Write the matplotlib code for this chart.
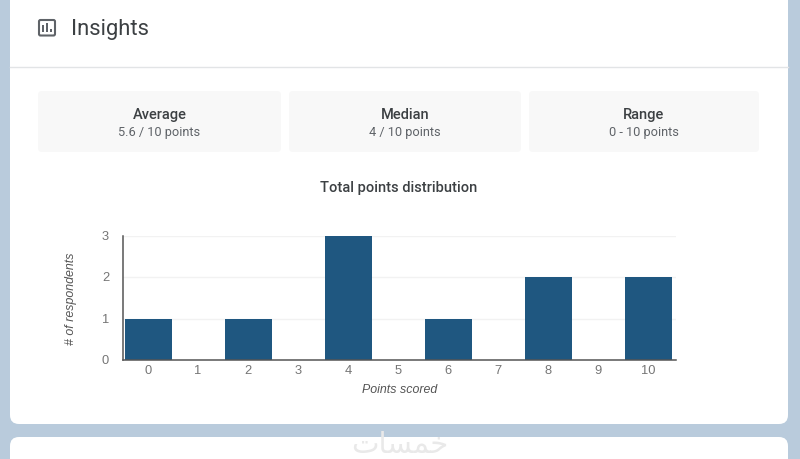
import matplotlib
matplotlib.use("Agg")
import matplotlib.pyplot as plt
from matplotlib.patches import FancyBboxPatch, Rectangle
from matplotlib.transforms import ScaledTranslation

points = [0, 1, 2, 3, 4, 5, 6, 7, 8, 9, 10]
respondents = [1, 0, 1, 0, 3, 0, 1, 0, 2, 0, 2]
y_ticks = [0, 1, 2, 3]
stat_titles = ["Average", "Median", "Range"]
stat_values = ["5.6 / 10 points", "4 / 10 points", "0 - 10 points"]
stat_boxes = [(38, 281), (289, 521), (529, 759)]

W, H = 800, 460
plt.rcParams["font.family"] = ["Roboto", "DejaVu Sans"]
fig = plt.figure(figsize=(W / 100, H / 100), dpi=100, facecolor="#b9cbdc")

bg = fig.add_axes([0, 0, 1, 1])
bg.set_xlim(0, W)
bg.set_ylim(H, 0)
bg.axis("off")


def rbox(x0, y0, x1, y1, color, r=8, ax=bg, **kw):
    ax.add_patch(FancyBboxPatch((x0 + r, y0 + r), x1 - x0 - 2 * r, y1 - y0 - 2 * r,
                                boxstyle=f"round,pad={r},rounding_size={r}",
                                fc=color, ec="none", **kw))


rbox(10, -30, 788, 425, "#ffffff", r=9)
rbox(10, 438, 788, 490, "#ffffff", r=9)
bg.plot([10, 788], [67.5, 67.5], color="#e2e4e6", lw=1)

# header icon
bg.add_patch(FancyBboxPatch((39.5, 21.5), 15, 14.5, boxstyle="round,pad=0.5,rounding_size=1.5",
                            fc="none", ec="#5f6368", lw=1.5))
for bx, top in [(42, 26), (46, 24), (50, 30)]:
    bg.add_patch(Rectangle((bx, top), 2, 33 - top, fc="#5f6368", ec="none"))
bg.text(71, 29, "Insights", fontsize=15.8, color="#3c4043", va="center", ha="left",
        family=["Roboto", "DejaVu Sans"])

for (x0, x1), t, v in zip(stat_boxes, stat_titles, stat_values):
    rbox(x0, 92, x1, 153, "#f8f8f8", r=4)
    cx = (x0 + x1) / 2
    bg.text(cx, 115, t, fontsize=10.5, fontweight="medium", color="#3c4043", ha="center", va="center")
    bg.text(cx, 132.5, v, fontsize=9.2, color="#5f6368", ha="center", va="center")

bg.text(399, 188, "Total points distribution", fontsize=10.5, fontweight="medium",
        color="#3c4043", ha="center", va="center")

# watermark
bg.text(400, 445, "\ufe95\ufe8e\ufeb4\ufee4\ufea7", fontsize=21, color="#e9e9e9",
        ha="center", va="center", family="DejaVu Sans", zorder=5)

# chart
L, R, T, B = 123, 676, 237, 361
ax = fig.add_axes([L / W, 1 - B / H, (R - L) / W, (B - T) / H], facecolor="none")
ax.bar(points, respondents, width=0.94, color="#1f5780", zorder=3)
ax.set_xlim(-0.5, 10.56)
ax.set_ylim(0, 3)
ax.set_xticks(points)
ax.set_yticks(y_ticks)
ax.grid(axis="y", color="#f2f2f2", lw=1, zorder=0)
ax.grid(axis="x", visible=False)
for s in ("top", "right"):
    ax.spines[s].set_visible(False)
for s in ("left", "bottom"):
    ax.spines[s].set_color("#555555")
    ax.spines[s].set_linewidth(1.1)
    ax.spines[s].set_zorder(4)
ax.tick_params(axis="x", length=0, pad=3, labelsize=9.3, labelcolor="#757575")
ax.tick_params(axis="y", length=0, pad=10, labelsize=9.3, labelcolor="#757575")
for lab in ax.get_xticklabels() + ax.get_yticklabels():
    lab.set_family("Liberation Sans")
up = ScaledTranslation(0, 1.5 / 100, fig.dpi_scale_trans)
for lab in ax.get_yticklabels():
    lab.set_transform(lab.get_transform() + up)
ax.set_xlabel("Points scored", fontsize=8.9, style="italic", color="#555555",
              family="Liberation Sans", labelpad=5)
ax.set_ylabel("# of respondents", fontsize=8.9, style="italic", color="#555555",
              family="Liberation Sans", labelpad=18)

fig.savefig("out.png", dpi=100, facecolor=fig.get_facecolor())
